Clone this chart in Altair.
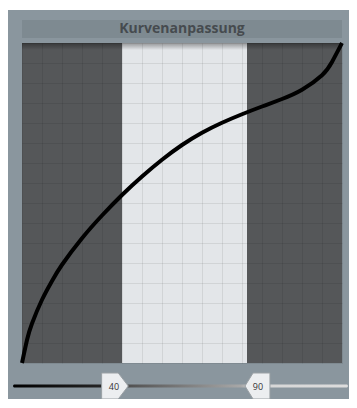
import altair as alt
import pandas as pd

# ---- data ----
curve_x = [0, 2, 4, 8, 12, 16, 24, 32, 40, 48, 56, 64, 72, 80, 88, 96, 104, 112, 120, 124, 128]
curve_y = [0, 9.2, 15.8, 25.3, 32.8, 39.3, 49.9, 59.0, 67.2, 74.6, 81.3, 87.2, 92.1,
           96.1, 99.5, 102.6, 105.6, 109.3, 115.1, 120.4, 128]

region_start = [0, 40, 90]
region_end = [40, 90, 128]
region_kind = ["outside", "inside", "outside"]

slider_values = [40, 90]
slider_labels = ["40", "90"]

grid_values = list(range(0, 129, 8))
title_text = "Kurvenanpassung"

# ---- frames ----
df_curve = pd.DataFrame({"x": curve_x, "y": curve_y})
df_reg = pd.DataFrame({"start": region_start, "end": region_end, "kind": region_kind})
df_handles = pd.DataFrame({"value": slider_values, "label": slider_labels})

xs = alt.Scale(domain=[0, 128], nice=False, zero=False)
ys = alt.Scale(domain=[0, 128], nice=False, zero=False)
ax = alt.Axis(values=grid_values, grid=True, labels=False, ticks=False, domain=False,
              title=None, gridColor="black", gridOpacity=0.08, gridWidth=1, zindex=1)

one = pd.DataFrame({"a": [0]})

panel = alt.Chart(one).mark_rect(color="#8a969e").encode(
    x=alt.value(-16), x2=alt.value(335), y=alt.value(-33), y2=alt.value(365))

title_bar = alt.Chart(one).mark_rect(color="#7e8a91").encode(
    x=alt.value(0), x2=alt.value(320), y=alt.value(-23), y2=alt.value(-5))

title = alt.Chart(one).mark_text(
    font="Open Sans", fontWeight="bold", fontSize=14, color="#464b4f",
    align="center", baseline="middle").encode(
    x=alt.value(160), y=alt.value(-14), text=alt.value(title_text))

regions = alt.Chart(df_reg).mark_rect().encode(
    x=alt.X("start:Q", scale=xs, axis=ax),
    x2="end:Q",
    y=alt.value(0), y2=alt.value(320),
    color=alt.Color("kind:N", scale=alt.Scale(domain=["outside", "inside"],
                                              range=["#555759", "#e3e6e9"]), legend=None),
)

grid_y = alt.Chart(df_curve).mark_point(opacity=0).encode(
    x=alt.X("x:Q", scale=xs, axis=ax),
    y=alt.Y("y:Q", scale=ys, axis=ax),
)

shadow = alt.Chart(one).mark_rect(
    color=alt.Gradient(gradient="linear", x1=0, x2=0, y1=0, y2=1,
                       stops=[alt.GradientStop(color="rgba(0,0,0,0.35)", offset=0),
                              alt.GradientStop(color="rgba(0,0,0,0)", offset=1)])).encode(
    x=alt.value(0), x2=alt.value(320), y=alt.value(0), y2=alt.value(7))

curve = alt.Chart(df_curve).mark_line(color="black", strokeWidth=4, interpolate="natural").encode(
    x=alt.X("x:Q", scale=xs, axis=ax),
    y=alt.Y("y:Q", scale=ys, axis=ax),
)

track = alt.Chart(one).mark_rect(
    cornerRadius=1.5,
    color=alt.Gradient(gradient="linear", x1=0, x2=1, y1=0, y2=0,
                       stops=[alt.GradientStop(color="#000000", offset=0),
                              alt.GradientStop(color="#2a2a2a", offset=0.3),
                              alt.GradientStop(color="#505050", offset=0.34),
                              alt.GradientStop(color="#a8a8a8", offset=0.68),
                              alt.GradientStop(color="#d6d6d6", offset=0.72),
                              alt.GradientStop(color="#dcdcdc", offset=1)])).encode(
    x=alt.value(-9), x2=alt.value(326), y=alt.value(341.5), y2=alt.value(344.5))

left_path = "M -0.72 -1 L 0.56 -1 L 1.33 0 L 0.56 1 L -0.72 1 Z"
right_path = "M 0.65 -1 L -0.65 -1 L -1.27 0 L -0.65 1 L 0.65 1 Z"

h_left = alt.Chart(df_handles).transform_filter(
    alt.datum.value == slider_values[0]).mark_point(
    shape=left_path, size=676, filled=True, fill="#eceef0", stroke="#9aa0a4",
    strokeWidth=1, opacity=1, xOffset=-11).encode(
    x=alt.X("value:Q", scale=xs, axis=ax), y=alt.value(343))

h_right = alt.Chart(df_handles).transform_filter(
    alt.datum.value == slider_values[1]).mark_point(
    shape=right_path, size=676, filled=True, fill="#eceef0", stroke="#9aa0a4",
    strokeWidth=1, opacity=1, xOffset=14.5).encode(
    x=alt.X("value:Q", scale=xs, axis=ax), y=alt.value(343))

t_left = alt.Chart(df_handles).transform_filter(
    alt.datum.value == slider_values[0]).mark_text(
    font="Open Sans", fontSize=9, color="#333333", align="center", baseline="middle",
    xOffset=-8).encode(x=alt.X("value:Q", scale=xs, axis=ax), y=alt.value(344), text="label:N")

t_right = alt.Chart(df_handles).transform_filter(
    alt.datum.value == slider_values[1]).mark_text(
    font="Open Sans", fontSize=9, color="#333333", align="center", baseline="middle",
    xOffset=11).encode(x=alt.X("value:Q", scale=xs, axis=ax), y=alt.value(344), text="label:N")

chart = alt.layer(
    panel, title_bar, title, regions, grid_y, shadow, curve, track,
    h_left, h_right, t_left, t_right
).properties(
    width=320, height=320,
    padding={"left": 14, "top": 35, "right": 7, "bottom": 36},
    autosize=alt.AutoSizeParams(type="none"),
    background="white",
).configure_view(strokeWidth=0)

chart.save("out.html", embed_options={"renderer": "svg", "actions": False})
